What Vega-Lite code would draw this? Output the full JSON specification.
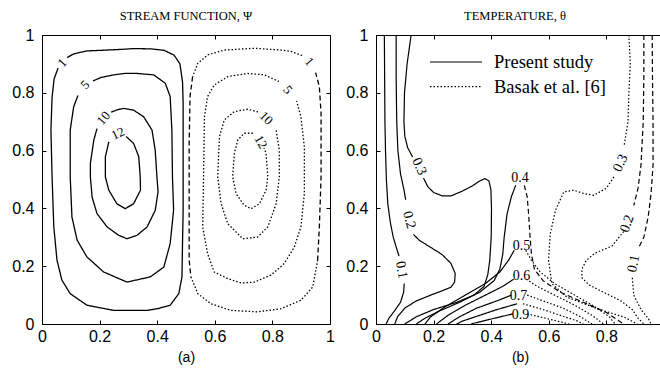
{
  "$schema": "https://vega.github.io/schema/vega-lite/v6.json",
  "padding": {"left": 5, "top": 9, "right": 0, "bottom": 0},
  "background": "white",
  "config": {
    "view": {"stroke": "black", "strokeWidth": 1},
    "axis": {
      "grid": false, "domain": false, "ticks": true, "tickColor": "black", "tickSize": -4, "tickWidth": 1,
      "labelFont": "Liberation Sans", "labelFontSize": 16, "labelColor": "black", "labelPadding": 12,
      "labelFlush": false, "labelOverlap": false,
      "titleFont": "Liberation Sans", "titleFontSize": 14, "titleFontWeight": "normal", "titleColor": "black"
    },
    "axisBottom": {"labelPadding": 8},
    "title": {"font": "Liberation Serif", "fontSize": 12.5, "fontWeight": "normal", "color": "black", "offset": 5}
  },
  "datasets": {
    "psi": [
      {"c":"P1","s":"Present study","i":0,"x":0.087,"y":0.922},{"c":"P1","s":"Present study","i":1,"x":0.111,"y":0.935},{"c":"P1","s":"Present study","i":2,"x":0.156,"y":0.945},{"c":"P1","s":"Present study","i":3,"x":0.205,"y":0.947},{"c":"P1","s":"Present study","i":4,"x":0.271,"y":0.950},{"c":"P1","s":"Present study","i":5,"x":0.319,"y":0.953},{"c":"P1","s":"Present study","i":6,"x":0.378,"y":0.952},{"c":"P1","s":"Present study","i":7,"x":0.424,"y":0.947},{"c":"P1","s":"Present study","i":8,"x":0.459,"y":0.930},{"c":"P1","s":"Present study","i":9,"x":0.479,"y":0.900},{"c":"P1","s":"Present study","i":10,"x":0.488,"y":0.837},{"c":"P1","s":"Present study","i":11,"x":0.490,"y":0.768},{"c":"P1","s":"Present study","i":12,"x":0.490,"y":0.630},{"c":"P1","s":"Present study","i":13,"x":0.490,"y":0.509},{"c":"P1","s":"Present study","i":14,"x":0.490,"y":0.388},{"c":"P1","s":"Present study","i":15,"x":0.488,"y":0.284},{"c":"P1","s":"Present study","i":16,"x":0.486,"y":0.163},{"c":"P1","s":"Present study","i":17,"x":0.475,"y":0.105},{"c":"P1","s":"Present study","i":18,"x":0.445,"y":0.065},{"c":"P1","s":"Present study","i":19,"x":0.406,"y":0.054},{"c":"P1","s":"Present study","i":20,"x":0.365,"y":0.047},{"c":"P1","s":"Present study","i":21,"x":0.249,"y":0.047},{"c":"P1","s":"Present study","i":22,"x":0.156,"y":0.065},{"c":"P1","s":"Present study","i":23,"x":0.098,"y":0.105},{"c":"P1","s":"Present study","i":24,"x":0.069,"y":0.152},{"c":"P1","s":"Present study","i":25,"x":0.052,"y":0.221},{"c":"P1","s":"Present study","i":26,"x":0.041,"y":0.336},{"c":"P1","s":"Present study","i":27,"x":0.035,"y":0.509},{"c":"P1","s":"Present study","i":28,"x":0.031,"y":0.671},{"c":"P1","s":"Present study","i":29,"x":0.035,"y":0.785},{"c":"P1","s":"Present study","i":30,"x":0.042,"y":0.848},{"c":"P1","s":"Present study","i":31,"x":0.056,"y":0.886},

      {"c":"P5","s":"Present study","i":0,"x":0.177,"y":0.841},{"c":"P5","s":"Present study","i":1,"x":0.205,"y":0.853},{"c":"P5","s":"Present study","i":2,"x":0.249,"y":0.862},{"c":"P5","s":"Present study","i":3,"x":0.288,"y":0.867},{"c":"P5","s":"Present study","i":4,"x":0.330,"y":0.867},{"c":"P5","s":"Present study","i":5,"x":0.388,"y":0.862},{"c":"P5","s":"Present study","i":6,"x":0.428,"y":0.833},{"c":"P5","s":"Present study","i":7,"x":0.445,"y":0.787},{"c":"P5","s":"Present study","i":8,"x":0.451,"y":0.671},{"c":"P5","s":"Present study","i":9,"x":0.453,"y":0.509},{"c":"P5","s":"Present study","i":10,"x":0.457,"y":0.394},{"c":"P5","s":"Present study","i":11,"x":0.445,"y":0.278},{"c":"P5","s":"Present study","i":12,"x":0.423,"y":0.197},{"c":"P5","s":"Present study","i":13,"x":0.376,"y":0.163},{"c":"P5","s":"Present study","i":14,"x":0.295,"y":0.145},{"c":"P5","s":"Present study","i":15,"x":0.214,"y":0.180},{"c":"P5","s":"Present study","i":16,"x":0.156,"y":0.232},{"c":"P5","s":"Present study","i":17,"x":0.122,"y":0.290},{"c":"P5","s":"Present study","i":18,"x":0.104,"y":0.370},{"c":"P5","s":"Present study","i":19,"x":0.098,"y":0.509},{"c":"P5","s":"Present study","i":20,"x":0.098,"y":0.671},{"c":"P5","s":"Present study","i":21,"x":0.110,"y":0.752},{"c":"P5","s":"Present study","i":22,"x":0.125,"y":0.791},

      {"c":"P10","s":"Present study","i":0,"x":0.240,"y":0.733},{"c":"P10","s":"Present study","i":1,"x":0.264,"y":0.742},{"c":"P10","s":"Present study","i":2,"x":0.284,"y":0.746},{"c":"P10","s":"Present study","i":3,"x":0.318,"y":0.740},{"c":"P10","s":"Present study","i":4,"x":0.353,"y":0.717},{"c":"P10","s":"Present study","i":5,"x":0.382,"y":0.671},{"c":"P10","s":"Present study","i":6,"x":0.393,"y":0.602},{"c":"P10","s":"Present study","i":7,"x":0.399,"y":0.510},{"c":"P10","s":"Present study","i":8,"x":0.403,"y":0.457},{"c":"P10","s":"Present study","i":9,"x":0.393,"y":0.393},{"c":"P10","s":"Present study","i":10,"x":0.365,"y":0.336},{"c":"P10","s":"Present study","i":11,"x":0.330,"y":0.307},{"c":"P10","s":"Present study","i":12,"x":0.295,"y":0.295},{"c":"P10","s":"Present study","i":13,"x":0.266,"y":0.307},{"c":"P10","s":"Present study","i":14,"x":0.226,"y":0.336},{"c":"P10","s":"Present study","i":15,"x":0.191,"y":0.382},{"c":"P10","s":"Present study","i":16,"x":0.174,"y":0.439},{"c":"P10","s":"Present study","i":17,"x":0.168,"y":0.509},{"c":"P10","s":"Present study","i":18,"x":0.168,"y":0.556},{"c":"P10","s":"Present study","i":19,"x":0.180,"y":0.637},{"c":"P10","s":"Present study","i":20,"x":0.191,"y":0.676},

      {"c":"P12","s":"Present study","i":0,"x":0.292,"y":0.649},{"c":"P12","s":"Present study","i":1,"x":0.318,"y":0.625},{"c":"P12","s":"Present study","i":2,"x":0.336,"y":0.579},{"c":"P12","s":"Present study","i":3,"x":0.341,"y":0.510},{"c":"P12","s":"Present study","i":4,"x":0.342,"y":0.463},{"c":"P12","s":"Present study","i":5,"x":0.318,"y":0.416},{"c":"P12","s":"Present study","i":6,"x":0.289,"y":0.399},{"c":"P12","s":"Present study","i":7,"x":0.260,"y":0.416},{"c":"P12","s":"Present study","i":8,"x":0.232,"y":0.463},{"c":"P12","s":"Present study","i":9,"x":0.220,"y":0.509},{"c":"P12","s":"Present study","i":10,"x":0.220,"y":0.579},{"c":"P12","s":"Present study","i":11,"x":0.232,"y":0.630},

      {"c":"B1t","s":"Basak et al. [6]","i":0,"x":0.903,"y":0.929},{"c":"B1t","s":"Basak et al. [6]","i":1,"x":0.865,"y":0.943},{"c":"B1t","s":"Basak et al. [6]","i":2,"x":0.830,"y":0.948},{"c":"B1t","s":"Basak et al. [6]","i":3,"x":0.737,"y":0.954},{"c":"B1t","s":"Basak et al. [6]","i":4,"x":0.633,"y":0.948},{"c":"B1t","s":"Basak et al. [6]","i":5,"x":0.575,"y":0.931},{"c":"B1t","s":"Basak et al. [6]","i":6,"x":0.541,"y":0.902},{"c":"B1t","s":"Basak et al. [6]","i":7,"x":0.523,"y":0.856},
      {"c":"B1l","s":"Basak dashed","i":0,"x":0.523,"y":0.856},{"c":"B1l","s":"Basak dashed","i":1,"x":0.514,"y":0.787},{"c":"B1l","s":"Basak dashed","i":2,"x":0.511,"y":0.630},{"c":"B1l","s":"Basak dashed","i":3,"x":0.511,"y":0.422},{"c":"B1l","s":"Basak dashed","i":4,"x":0.511,"y":0.221},{"c":"B1l","s":"Basak dashed","i":5,"x":0.517,"y":0.163},
      {"c":"B1b","s":"Basak et al. [6]","i":0,"x":0.517,"y":0.163},{"c":"B1b","s":"Basak et al. [6]","i":1,"x":0.541,"y":0.105},{"c":"B1b","s":"Basak et al. [6]","i":2,"x":0.587,"y":0.070},{"c":"B1b","s":"Basak et al. [6]","i":3,"x":0.656,"y":0.047},{"c":"B1b","s":"Basak et al. [6]","i":4,"x":0.749,"y":0.042},{"c":"B1b","s":"Basak et al. [6]","i":5,"x":0.830,"y":0.053},{"c":"B1b","s":"Basak et al. [6]","i":6,"x":0.899,"y":0.082},{"c":"B1b","s":"Basak et al. [6]","i":7,"x":0.940,"y":0.128},{"c":"B1b","s":"Basak et al. [6]","i":8,"x":0.957,"y":0.220},
      {"c":"B1r","s":"Basak dashed","i":0,"x":0.957,"y":0.220},{"c":"B1r","s":"Basak dashed","i":1,"x":0.963,"y":0.336},{"c":"B1r","s":"Basak dashed","i":2,"x":0.969,"y":0.509},{"c":"B1r","s":"Basak dashed","i":3,"x":0.969,"y":0.729},{"c":"B1r","s":"Basak dashed","i":4,"x":0.963,"y":0.821},{"c":"B1r","s":"Basak dashed","i":5,"x":0.950,"y":0.870},

      {"c":"B5","s":"Basak et al. [6]","i":0,"x":0.823,"y":0.839},{"c":"B5","s":"Basak et al. [6]","i":1,"x":0.772,"y":0.862},{"c":"B5","s":"Basak et al. [6]","i":2,"x":0.714,"y":0.867},{"c":"B5","s":"Basak et al. [6]","i":3,"x":0.645,"y":0.856},{"c":"B5","s":"Basak et al. [6]","i":4,"x":0.598,"y":0.827},{"c":"B5","s":"Basak et al. [6]","i":5,"x":0.575,"y":0.787},{"c":"B5","s":"Basak et al. [6]","i":6,"x":0.564,"y":0.717},{"c":"B5","s":"Basak et al. [6]","i":7,"x":0.561,"y":0.509},{"c":"B5","s":"Basak et al. [6]","i":8,"x":0.558,"y":0.336},{"c":"B5","s":"Basak et al. [6]","i":9,"x":0.575,"y":0.243},{"c":"B5","s":"Basak et al. [6]","i":10,"x":0.598,"y":0.180},{"c":"B5","s":"Basak et al. [6]","i":11,"x":0.645,"y":0.157},{"c":"B5","s":"Basak et al. [6]","i":12,"x":0.691,"y":0.142},{"c":"B5","s":"Basak et al. [6]","i":13,"x":0.737,"y":0.145},{"c":"B5","s":"Basak et al. [6]","i":14,"x":0.795,"y":0.169},{"c":"B5","s":"Basak et al. [6]","i":15,"x":0.841,"y":0.209},{"c":"B5","s":"Basak et al. [6]","i":16,"x":0.876,"y":0.266},{"c":"B5","s":"Basak et al. [6]","i":17,"x":0.899,"y":0.336},{"c":"B5","s":"Basak et al. [6]","i":18,"x":0.911,"y":0.451},{"c":"B5","s":"Basak et al. [6]","i":19,"x":0.911,"y":0.613},{"c":"B5","s":"Basak et al. [6]","i":20,"x":0.899,"y":0.717},{"c":"B5","s":"Basak et al. [6]","i":21,"x":0.884,"y":0.772},

      {"c":"B10","s":"Basak et al. [6]","i":0,"x":0.750,"y":0.734},{"c":"B10","s":"Basak et al. [6]","i":1,"x":0.714,"y":0.743},{"c":"B10","s":"Basak et al. [6]","i":2,"x":0.668,"y":0.735},{"c":"B10","s":"Basak et al. [6]","i":3,"x":0.633,"y":0.706},{"c":"B10","s":"Basak et al. [6]","i":4,"x":0.616,"y":0.648},{"c":"B10","s":"Basak et al. [6]","i":5,"x":0.610,"y":0.510},{"c":"B10","s":"Basak et al. [6]","i":6,"x":0.622,"y":0.416},{"c":"B10","s":"Basak et al. [6]","i":7,"x":0.645,"y":0.347},{"c":"B10","s":"Basak et al. [6]","i":8,"x":0.697,"y":0.295},{"c":"B10","s":"Basak et al. [6]","i":9,"x":0.749,"y":0.301},{"c":"B10","s":"Basak et al. [6]","i":10,"x":0.784,"y":0.336},{"c":"B10","s":"Basak et al. [6]","i":11,"x":0.813,"y":0.416},{"c":"B10","s":"Basak et al. [6]","i":12,"x":0.824,"y":0.509},{"c":"B10","s":"Basak et al. [6]","i":13,"x":0.824,"y":0.602},{"c":"B10","s":"Basak et al. [6]","i":14,"x":0.813,"y":0.670},

      {"c":"B12","s":"Basak et al. [6]","i":0,"x":0.732,"y":0.660},{"c":"B12","s":"Basak et al. [6]","i":1,"x":0.702,"y":0.660},{"c":"B12","s":"Basak et al. [6]","i":2,"x":0.680,"y":0.637},{"c":"B12","s":"Basak et al. [6]","i":3,"x":0.668,"y":0.591},{"c":"B12","s":"Basak et al. [6]","i":4,"x":0.662,"y":0.510},{"c":"B12","s":"Basak et al. [6]","i":5,"x":0.674,"y":0.451},{"c":"B12","s":"Basak et al. [6]","i":6,"x":0.702,"y":0.411},{"c":"B12","s":"Basak et al. [6]","i":7,"x":0.726,"y":0.399},{"c":"B12","s":"Basak et al. [6]","i":8,"x":0.755,"y":0.416},{"c":"B12","s":"Basak et al. [6]","i":9,"x":0.778,"y":0.463},{"c":"B12","s":"Basak et al. [6]","i":10,"x":0.784,"y":0.510},{"c":"B12","s":"Basak et al. [6]","i":11,"x":0.778,"y":0.591},{"c":"B12","s":"Basak et al. [6]","i":12,"x":0.771,"y":0.609}
    ],
    "psiLabels": [
      {"t":"1","x":0.071,"y":0.903,"dir":-49},
      {"t":"5","x":0.150,"y":0.827,"dir":-45},
      {"t":"10","x":0.214,"y":0.712,"dir":-50},
      {"t":"12","x":0.264,"y":0.659,"dir":-25},
      {"t":"1","x":0.928,"y":0.908,"dir":50},
      {"t":"5","x":0.853,"y":0.810,"dir":50},
      {"t":"10","x":0.778,"y":0.712,"dir":45},
      {"t":"12","x":0.759,"y":0.630,"dir":60}
    ],
    "theta": [
      {"c":"P01a","s":"Present study","i":0,"x":0.029,"y":1},{"c":"P01a","s":"Present study","i":1,"x":0.030,"y":0.85},{"c":"P01a","s":"Present study","i":2,"x":0.031,"y":0.7},{"c":"P01a","s":"Present study","i":3,"x":0.033,"y":0.6},{"c":"P01a","s":"Present study","i":4,"x":0.036,"y":0.5},{"c":"P01a","s":"Present study","i":5,"x":0.041,"y":0.416},{"c":"P01a","s":"Present study","i":6,"x":0.050,"y":0.35},{"c":"P01a","s":"Present study","i":7,"x":0.060,"y":0.30},{"c":"P01a","s":"Present study","i":8,"x":0.072,"y":0.26},{"c":"P01a","s":"Present study","i":9,"x":0.080,"y":0.235},
      {"c":"P01b","s":"Present study","i":0,"x":0.098,"y":0.14},{"c":"P01b","s":"Present study","i":1,"x":0.096,"y":0.11},{"c":"P01b","s":"Present study","i":2,"x":0.085,"y":0.075},{"c":"P01b","s":"Present study","i":3,"x":0.064,"y":0.045},{"c":"P01b","s":"Present study","i":4,"x":0.045,"y":0.02},{"c":"P01b","s":"Present study","i":5,"x":0.035,"y":0},
      {"c":"P02a","s":"Present study","i":0,"x":0.07,"y":1},{"c":"P02a","s":"Present study","i":1,"x":0.07,"y":0.85},{"c":"P02a","s":"Present study","i":2,"x":0.072,"y":0.7},{"c":"P02a","s":"Present study","i":3,"x":0.076,"y":0.6},{"c":"P02a","s":"Present study","i":4,"x":0.085,"y":0.52},{"c":"P02a","s":"Present study","i":5,"x":0.097,"y":0.465},{"c":"P02a","s":"Present study","i":6,"x":0.103,"y":0.43},
      {"c":"P02b","s":"Present study","i":0,"x":0.13,"y":0.31},{"c":"P02b","s":"Present study","i":1,"x":0.15,"y":0.29},{"c":"P02b","s":"Present study","i":2,"x":0.19,"y":0.265},{"c":"P02b","s":"Present study","i":3,"x":0.23,"y":0.24},{"c":"P02b","s":"Present study","i":4,"x":0.26,"y":0.21},{"c":"P02b","s":"Present study","i":5,"x":0.275,"y":0.175},{"c":"P02b","s":"Present study","i":6,"x":0.273,"y":0.145},{"c":"P02b","s":"Present study","i":7,"x":0.26,"y":0.127},{"c":"P02b","s":"Present study","i":8,"x":0.23,"y":0.115},{"c":"P02b","s":"Present study","i":9,"x":0.19,"y":0.10},{"c":"P02b","s":"Present study","i":10,"x":0.14,"y":0.08},{"c":"P02b","s":"Present study","i":11,"x":0.10,"y":0.055},{"c":"P02b","s":"Present study","i":12,"x":0.075,"y":0.025},{"c":"P02b","s":"Present study","i":13,"x":0.065,"y":0},
      {"c":"P03a","s":"Present study","i":0,"x":0.122,"y":1},{"c":"P03a","s":"Present study","i":1,"x":0.108,"y":0.9},{"c":"P03a","s":"Present study","i":2,"x":0.099,"y":0.8},{"c":"P03a","s":"Present study","i":3,"x":0.097,"y":0.7},{"c":"P03a","s":"Present study","i":4,"x":0.1,"y":0.65},{"c":"P03a","s":"Present study","i":5,"x":0.11,"y":0.61},{"c":"P03a","s":"Present study","i":6,"x":0.127,"y":0.578},
      {"c":"P03b","s":"Present study","i":0,"x":0.165,"y":0.505},{"c":"P03b","s":"Present study","i":1,"x":0.18,"y":0.475},{"c":"P03b","s":"Present study","i":2,"x":0.2,"y":0.455},{"c":"P03b","s":"Present study","i":3,"x":0.23,"y":0.443},{"c":"P03b","s":"Present study","i":4,"x":0.26,"y":0.443},{"c":"P03b","s":"Present study","i":5,"x":0.30,"y":0.46},{"c":"P03b","s":"Present study","i":6,"x":0.335,"y":0.478},{"c":"P03b","s":"Present study","i":7,"x":0.36,"y":0.495},{"c":"P03b","s":"Present study","i":8,"x":0.378,"y":0.503},{"c":"P03b","s":"Present study","i":9,"x":0.392,"y":0.495},{"c":"P03b","s":"Present study","i":10,"x":0.399,"y":0.465},{"c":"P03b","s":"Present study","i":11,"x":0.401,"y":0.4},{"c":"P03b","s":"Present study","i":12,"x":0.40,"y":0.30},{"c":"P03b","s":"Present study","i":13,"x":0.395,"y":0.22},{"c":"P03b","s":"Present study","i":14,"x":0.388,"y":0.17},{"c":"P03b","s":"Present study","i":15,"x":0.375,"y":0.13},{"c":"P03b","s":"Present study","i":16,"x":0.34,"y":0.1},{"c":"P03b","s":"Present study","i":17,"x":0.28,"y":0.075},{"c":"P03b","s":"Present study","i":18,"x":0.2,"y":0.05},{"c":"P03b","s":"Present study","i":19,"x":0.14,"y":0.025},{"c":"P03b","s":"Present study","i":20,"x":0.1,"y":0},
      {"c":"P04","s":"Present study","i":0,"x":0.485,"y":0.48},{"c":"P04","s":"Present study","i":1,"x":0.47,"y":0.44},{"c":"P04","s":"Present study","i":2,"x":0.455,"y":0.38},{"c":"P04","s":"Present study","i":3,"x":0.445,"y":0.30},{"c":"P04","s":"Present study","i":4,"x":0.44,"y":0.24},{"c":"P04","s":"Present study","i":5,"x":0.43,"y":0.19},{"c":"P04","s":"Present study","i":6,"x":0.41,"y":0.15},{"c":"P04","s":"Present study","i":7,"x":0.36,"y":0.11},{"c":"P04","s":"Present study","i":8,"x":0.29,"y":0.075},{"c":"P04","s":"Present study","i":9,"x":0.22,"y":0.045},{"c":"P04","s":"Present study","i":10,"x":0.17,"y":0.02},{"c":"P04","s":"Present study","i":11,"x":0.14,"y":0},
      {"c":"P05","s":"Present study","i":0,"x":0.48,"y":0.255},{"c":"P05","s":"Present study","i":1,"x":0.46,"y":0.22},{"c":"P05","s":"Present study","i":2,"x":0.43,"y":0.18},{"c":"P05","s":"Present study","i":3,"x":0.38,"y":0.14},{"c":"P05","s":"Present study","i":4,"x":0.31,"y":0.1},{"c":"P05","s":"Present study","i":5,"x":0.24,"y":0.06},{"c":"P05","s":"Present study","i":6,"x":0.19,"y":0.025},{"c":"P05","s":"Present study","i":7,"x":0.17,"y":0},
      {"c":"P06","s":"Present study","i":0,"x":0.478,"y":0.155},{"c":"P06","s":"Present study","i":1,"x":0.44,"y":0.13},{"c":"P06","s":"Present study","i":2,"x":0.38,"y":0.1},{"c":"P06","s":"Present study","i":3,"x":0.31,"y":0.065},{"c":"P06","s":"Present study","i":4,"x":0.25,"y":0.03},{"c":"P06","s":"Present study","i":5,"x":0.21,"y":0},
      {"c":"P07","s":"Present study","i":0,"x":0.47,"y":0.1},{"c":"P07","s":"Present study","i":1,"x":0.42,"y":0.08},{"c":"P07","s":"Present study","i":2,"x":0.35,"y":0.055},{"c":"P07","s":"Present study","i":3,"x":0.29,"y":0.025},{"c":"P07","s":"Present study","i":4,"x":0.25,"y":0},
      {"c":"P08","s":"Present study","i":0,"x":0.49,"y":0.07},{"c":"P08","s":"Present study","i":1,"x":0.42,"y":0.05},{"c":"P08","s":"Present study","i":2,"x":0.36,"y":0.03},{"c":"P08","s":"Present study","i":3,"x":0.3,"y":0.01},{"c":"P08","s":"Present study","i":4,"x":0.28,"y":0},
      {"c":"P09","s":"Present study","i":0,"x":0.475,"y":0.035},{"c":"P09","s":"Present study","i":1,"x":0.42,"y":0.022},{"c":"P09","s":"Present study","i":2,"x":0.37,"y":0.01},{"c":"P09","s":"Present study","i":3,"x":0.33,"y":0},

      {"c":"B01a","s":"Basak dashed","i":0,"x":0.959,"y":1},{"c":"B01a","s":"Basak dashed","i":1,"x":0.96,"y":0.85},{"c":"B01a","s":"Basak dashed","i":2,"x":0.962,"y":0.7},{"c":"B01a","s":"Basak dashed","i":3,"x":0.962,"y":0.55},{"c":"B01a","s":"Basak dashed","i":4,"x":0.955,"y":0.45},{"c":"B01a","s":"Basak dashed","i":5,"x":0.945,"y":0.37},{"c":"B01a","s":"Basak dashed","i":6,"x":0.93,"y":0.3},{"c":"B01a","s":"Basak dashed","i":7,"x":0.91,"y":0.26},
      {"c":"B01b","s":"Basak et al. [6]","i":0,"x":0.89,"y":0.16},{"c":"B01b","s":"Basak et al. [6]","i":1,"x":0.895,"y":0.1},{"c":"B01b","s":"Basak et al. [6]","i":2,"x":0.92,"y":0.05},{"c":"B01b","s":"Basak et al. [6]","i":3,"x":0.945,"y":0.02},{"c":"B01b","s":"Basak et al. [6]","i":4,"x":0.955,"y":0},
      {"c":"B02a","s":"Basak dashed","i":0,"x":0.93,"y":1},{"c":"B02a","s":"Basak dashed","i":1,"x":0.93,"y":0.85},{"c":"B02a","s":"Basak dashed","i":2,"x":0.928,"y":0.7},{"c":"B02a","s":"Basak dashed","i":3,"x":0.92,"y":0.55},{"c":"B02a","s":"Basak dashed","i":4,"x":0.91,"y":0.47},{"c":"B02a","s":"Basak dashed","i":5,"x":0.895,"y":0.41},
      {"c":"B02b","s":"Basak et al. [6]","i":0,"x":0.86,"y":0.32},{"c":"B02b","s":"Basak et al. [6]","i":1,"x":0.82,"y":0.27},{"c":"B02b","s":"Basak et al. [6]","i":2,"x":0.76,"y":0.245},{"c":"B02b","s":"Basak et al. [6]","i":3,"x":0.73,"y":0.22},{"c":"B02b","s":"Basak et al. [6]","i":4,"x":0.715,"y":0.19},{"c":"B02b","s":"Basak et al. [6]","i":5,"x":0.715,"y":0.16},{"c":"B02b","s":"Basak et al. [6]","i":6,"x":0.74,"y":0.135},{"c":"B02b","s":"Basak et al. [6]","i":7,"x":0.79,"y":0.11},{"c":"B02b","s":"Basak et al. [6]","i":8,"x":0.85,"y":0.08},{"c":"B02b","s":"Basak et al. [6]","i":9,"x":0.89,"y":0.05},{"c":"B02b","s":"Basak et al. [6]","i":10,"x":0.91,"y":0.02},{"c":"B02b","s":"Basak et al. [6]","i":11,"x":0.93,"y":0},
      {"c":"B03a","s":"Basak et al. [6]","i":0,"x":0.878,"y":1},{"c":"B03a","s":"Basak et al. [6]","i":1,"x":0.883,"y":0.9},{"c":"B03a","s":"Basak et al. [6]","i":2,"x":0.878,"y":0.8},{"c":"B03a","s":"Basak et al. [6]","i":3,"x":0.875,"y":0.7},{"c":"B03a","s":"Basak et al. [6]","i":4,"x":0.862,"y":0.62},
      {"c":"B03b","s":"Basak et al. [6]","i":0,"x":0.826,"y":0.509},{"c":"B03b","s":"Basak et al. [6]","i":1,"x":0.80,"y":0.47},{"c":"B03b","s":"Basak et al. [6]","i":2,"x":0.756,"y":0.445},{"c":"B03b","s":"Basak et al. [6]","i":3,"x":0.72,"y":0.452},{"c":"B03b","s":"Basak et al. [6]","i":4,"x":0.686,"y":0.463},{"c":"B03b","s":"Basak et al. [6]","i":5,"x":0.652,"y":0.457},{"c":"B03b","s":"Basak et al. [6]","i":6,"x":0.623,"y":0.393},{"c":"B03b","s":"Basak et al. [6]","i":7,"x":0.605,"y":0.312},{"c":"B03b","s":"Basak et al. [6]","i":8,"x":0.599,"y":0.22},{"c":"B03b","s":"Basak et al. [6]","i":9,"x":0.611,"y":0.139},{"c":"B03b","s":"Basak et al. [6]","i":10,"x":0.663,"y":0.093},{"c":"B03b","s":"Basak et al. [6]","i":11,"x":0.768,"y":0.053},{"c":"B03b","s":"Basak et al. [6]","i":12,"x":0.861,"y":0.024},{"c":"B03b","s":"Basak et al. [6]","i":13,"x":0.907,"y":0},
      {"c":"B04","s":"Basak dashed","i":0,"x":0.515,"y":0.48},{"c":"B04","s":"Basak dashed","i":1,"x":0.525,"y":0.44},{"c":"B04","s":"Basak dashed","i":2,"x":0.53,"y":0.38},{"c":"B04","s":"Basak dashed","i":3,"x":0.535,"y":0.3},{"c":"B04","s":"Basak dashed","i":4,"x":0.54,"y":0.24},{"c":"B04","s":"Basak dashed","i":5,"x":0.55,"y":0.19},{"c":"B04","s":"Basak dashed","i":6,"x":0.58,"y":0.15},{"c":"B04","s":"Basak dashed","i":7,"x":0.64,"y":0.11},{"c":"B04","s":"Basak dashed","i":8,"x":0.72,"y":0.075},{"c":"B04","s":"Basak dashed","i":9,"x":0.8,"y":0.04},{"c":"B04","s":"Basak dashed","i":10,"x":0.86,"y":0},
      {"c":"B05","s":"Basak et al. [6]","i":0,"x":0.52,"y":0.255},{"c":"B05","s":"Basak et al. [6]","i":1,"x":0.54,"y":0.22},{"c":"B05","s":"Basak et al. [6]","i":2,"x":0.57,"y":0.18},{"c":"B05","s":"Basak et al. [6]","i":3,"x":0.62,"y":0.14},{"c":"B05","s":"Basak et al. [6]","i":4,"x":0.69,"y":0.1},{"c":"B05","s":"Basak et al. [6]","i":5,"x":0.76,"y":0.06},{"c":"B05","s":"Basak et al. [6]","i":6,"x":0.81,"y":0.025},{"c":"B05","s":"Basak et al. [6]","i":7,"x":0.83,"y":0},
      {"c":"B06","s":"Basak et al. [6]","i":0,"x":0.522,"y":0.155},{"c":"B06","s":"Basak et al. [6]","i":1,"x":0.56,"y":0.13},{"c":"B06","s":"Basak et al. [6]","i":2,"x":0.62,"y":0.1},{"c":"B06","s":"Basak et al. [6]","i":3,"x":0.69,"y":0.065},{"c":"B06","s":"Basak et al. [6]","i":4,"x":0.75,"y":0.03},{"c":"B06","s":"Basak et al. [6]","i":5,"x":0.79,"y":0},
      {"c":"B07","s":"Basak et al. [6]","i":0,"x":0.525,"y":0.1},{"c":"B07","s":"Basak et al. [6]","i":1,"x":0.58,"y":0.08},{"c":"B07","s":"Basak et al. [6]","i":2,"x":0.65,"y":0.055},{"c":"B07","s":"Basak et al. [6]","i":3,"x":0.71,"y":0.025},{"c":"B07","s":"Basak et al. [6]","i":4,"x":0.75,"y":0},
      {"c":"B08","s":"Basak et al. [6]","i":0,"x":0.51,"y":0.07},{"c":"B08","s":"Basak et al. [6]","i":1,"x":0.58,"y":0.05},{"c":"B08","s":"Basak et al. [6]","i":2,"x":0.64,"y":0.03},{"c":"B08","s":"Basak et al. [6]","i":3,"x":0.7,"y":0.01},{"c":"B08","s":"Basak et al. [6]","i":4,"x":0.72,"y":0},
      {"c":"B09","s":"Basak et al. [6]","i":0,"x":0.525,"y":0.035},{"c":"B09","s":"Basak et al. [6]","i":1,"x":0.58,"y":0.022},{"c":"B09","s":"Basak et al. [6]","i":2,"x":0.63,"y":0.01},{"c":"B09","s":"Basak et al. [6]","i":3,"x":0.67,"y":0}
    ],
    "thetaLabels": [
      {"t":"0.1","x":0.088,"y":0.187,"dir":80},
      {"t":"0.2","x":0.115,"y":0.36,"dir":75},
      {"t":"0.3","x":0.150,"y":0.545,"dir":65},
      {"t":"0.4","x":0.5,"y":0.505,"dir":0},
      {"t":"0.5","x":0.505,"y":0.27,"dir":0},
      {"t":"0.6","x":0.505,"y":0.166,"dir":0},
      {"t":"0.7","x":0.495,"y":0.097,"dir":0},
      {"t":"0.9","x":0.502,"y":0.031,"dir":0},
      {"t":"0.3","x":0.849,"y":0.557,"dir":-65},
      {"t":"0.2","x":0.872,"y":0.347,"dir":-70},
      {"t":"0.1","x":0.895,"y":0.209,"dir":-78}
    ]
  },
  "resolve": {"scale": {"strokeDash": "independent"}, "legend": {"strokeDash": "independent"}},
  "spacing": 4,
  "hconcat": [
    {
      "width": 288,
      "height": 289,
      "title": {"text": "STREAM FUNCTION, Ψ"},
      "resolve": {"axis": {"x": "independent", "y": "independent"}},
      "layer": [
        {
          "data": {"name": "psi"},
          "mark": {"type": "line", "color": "black", "strokeWidth": 1.3},
          "encoding": {
            "x": {"field": "x", "type": "quantitative", "scale": {"domain": [0, 1], "nice": false, "zero": false},
                  "axis": {"orient": "bottom", "values": [0, 0.2, 0.4, 0.6, 0.8, 1], "format": "~g", "title": "(a)", "titlePadding": 6}},
            "y": {"field": "y", "type": "quantitative", "scale": {"domain": [0, 1], "nice": false, "zero": false},
                  "axis": {"orient": "left", "values": [0, 0.2, 0.4, 0.6, 0.8, 1], "format": "~g", "title": null, "minExtent": 36, "maxExtent": 36}},
            "detail": {"field": "c"},
            "order": {"field": "i", "type": "quantitative"},
            "strokeDash": {"field": "s", "type": "nominal", "legend": null,
                           "scale": {"domain": ["Present study", "Basak et al. [6]", "Basak dashed"], "range": [[1, 0], [1.5, 2], [5, 3]]}}
          }
        },
        {
          "data": {"name": "psiLabels"},
          "mark": {"type": "text", "font": "Liberation Serif", "fontSize": 13, "color": "black"},
          "encoding": {
            "x": {"field": "x", "type": "quantitative", "axis": {"orient": "top", "values": [0, 0.2, 0.4, 0.6, 0.8, 1], "labels": false, "title": null, "minExtent": 0, "maxExtent": 0}},
            "y": {"field": "y", "type": "quantitative", "axis": {"orient": "right", "values": [0, 0.2, 0.4, 0.6, 0.8, 1], "labels": false, "title": null, "minExtent": 0, "maxExtent": 0}},
            "text": {"field": "t"},
            "angle": {"field": "dir", "type": "quantitative", "scale": null}
          }
        }
      ]
    },
    {
      "width": 288,
      "height": 289,
      "title": {"text": "TEMPERATURE, θ", "dx": -5},
      "resolve": {"axis": {"x": "independent", "y": "independent"}},
      "layer": [
        {
          "data": {"name": "theta"},
          "mark": {"type": "line", "color": "black", "strokeWidth": 1.2},
          "encoding": {
            "x": {"field": "x", "type": "quantitative", "scale": {"domain": [0, 1], "nice": false, "zero": false},
                  "axis": {"orient": "bottom", "values": [0, 0.2, 0.4, 0.6, 0.8], "format": "~g", "title": "(b)", "titlePadding": 6}},
            "y": {"field": "y", "type": "quantitative", "scale": {"domain": [0, 1], "nice": false, "zero": false},
                  "axis": {"orient": "left", "values": [0, 0.2, 0.4, 0.6, 0.8, 1], "format": "~g", "title": null, "minExtent": 36, "maxExtent": 36}},
            "detail": {"field": "c"},
            "order": {"field": "i", "type": "quantitative"},
            "strokeDash": {"field": "s", "type": "nominal",
                           "scale": {"domain": ["Present study", "Basak et al. [6]", "Basak dashed"], "range": [[1, 0], [1.5, 2], [5, 3]]},
                           "legend": {"orient": "none", "legendX": 53, "legendY": 19, "title": null, "padding": 0,
                                      "values": ["Present study", "Basak et al. [6]"],
                                      "symbolType": "stroke", "symbolSize": 2704, "symbolStrokeWidth": 1.2, "symbolStrokeColor": "black",
                                      "labelFont": "Liberation Serif", "labelFontSize": 18.5, "labelColor": "black", "labelOffset": 11,
                                      "clipHeight": 16, "rowPadding": 5.7}}
          }
        },
        {
          "data": {"name": "thetaLabels"},
          "mark": {"type": "text", "font": "Liberation Serif", "fontSize": 14, "color": "black"},
          "encoding": {
            "x": {"field": "x", "type": "quantitative", "axis": {"orient": "top", "values": [0, 0.2, 0.4, 0.6, 0.8, 1], "labels": false, "title": null, "minExtent": 0, "maxExtent": 0}},
            "y": {"field": "y", "type": "quantitative", "axis": {"orient": "right", "values": [0, 0.2, 0.4, 0.6, 0.8, 1], "labels": false, "title": null, "minExtent": 0, "maxExtent": 0}},
            "text": {"field": "t"},
            "angle": {"field": "dir", "type": "quantitative", "scale": null}
          }
        }
      ]
    }
  ]
}
